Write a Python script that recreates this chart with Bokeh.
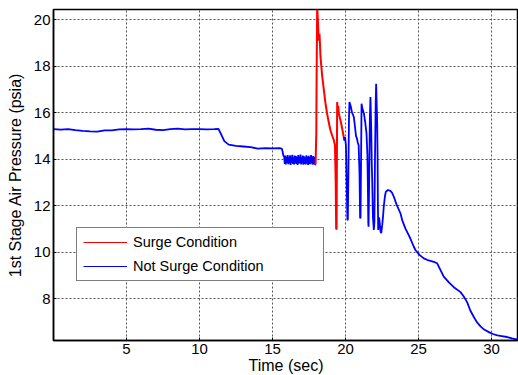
from bokeh.plotting import figure
from bokeh.models import Range1d, FixedTicker, Legend, LegendItem
from bokeh.embed import file_html
from bokeh.resources import INLINE

# ---- data ----
x_ticks = [5, 10, 15, 20, 25, 30]
y_ticks = [8, 10, 12, 14, 16, 18, 20]

# Not surge (before surge)
blue1_x = [0.0, 0.5, 1.0, 1.5, 2.0, 2.5, 3.0, 3.5, 4.0, 4.5, 5.0, 5.5, 6.0, 6.5, 7.0, 7.5,
           8.0, 8.5, 9.0, 9.5, 10.0, 10.5, 11.0, 11.3, 11.5, 11.7, 12.0, 12.5, 13.0, 13.5,
           14.0, 14.5, 15.0, 15.5, 15.65, 15.75,
           15.80, 15.84, 15.88, 15.92, 15.96, 16.00, 16.04, 16.08, 16.12, 16.16, 16.20,
           16.24, 16.28, 16.32, 16.36, 16.40, 16.44, 16.48, 16.52, 16.56, 16.60, 16.64,
           16.68, 16.72, 16.76, 16.80, 16.84, 16.88, 16.92, 16.96, 17.00, 17.04, 17.08,
           17.12, 17.16, 17.20, 17.24, 17.28, 17.32, 17.36, 17.40, 17.44, 17.48, 17.52,
           17.56, 17.60, 17.64, 17.68, 17.72, 17.76, 17.80, 17.84, 17.88, 17.92, 17.95]
blue1_y = [15.30, 15.28, 15.30, 15.25, 15.22, 15.20, 15.19, 15.24, 15.24, 15.29, 15.30, 15.29,
           15.30, 15.32, 15.27, 15.25, 15.30, 15.32, 15.29, 15.30, 15.30, 15.29, 15.30, 15.31,
           15.05, 14.78, 14.63, 14.58, 14.55, 14.52, 14.46, 14.48, 14.47, 14.48, 14.45, 14.15,
           14.12, 13.80, 14.16, 13.78, 14.10, 13.84, 14.18, 13.79, 14.08, 13.82, 14.17,
           13.76, 14.12, 13.85, 14.19, 13.80, 14.06, 13.78, 14.16, 13.83, 14.14, 13.80,
           14.10, 13.76, 14.18, 13.81, 14.12, 13.84, 14.20, 13.78, 14.09, 13.82, 14.16,
           13.77, 14.13, 13.80, 14.08, 13.78, 14.17, 13.82, 14.11, 13.76, 14.15, 13.80,
           14.10, 13.79, 14.18, 13.83, 14.12, 13.77, 14.14, 13.80, 14.10, 13.76, 13.78]

# Surge condition
red_x = [17.95, 18.00, 18.02, 18.06, 18.12, 18.17, 18.22, 18.29, 18.40, 18.52, 18.63, 18.74,
         18.85, 18.97, 19.10, 19.20, 19.28, 19.33, 19.36, 19.39, 19.41, 19.43, 19.47, 19.50,
         19.55, 19.66, 19.78, 19.88]
red_y = [13.78, 15.10, 17.40, 20.60, 19.80, 19.10, 19.40, 18.40, 17.60, 16.97, 16.40, 15.97,
         15.60, 15.25, 15.00, 14.82, 14.60, 13.00, 11.00, 11.00, 14.00, 16.46, 16.10, 16.30,
         15.95, 15.67, 15.30, 14.96]

# Not surge (after surge)
blue2_x = [19.88, 19.92, 19.97, 20.03, 20.08, 20.13, 20.16, 20.20, 20.24, 20.27, 20.35, 20.45,
           20.57, 20.65, 20.72, 20.78, 20.85, 20.90, 20.96, 21.00, 21.03, 21.06, 21.10, 21.15,
           21.26, 21.35, 21.44, 21.50, 21.53, 21.56, 21.58, 21.62, 21.67, 21.71, 21.76, 21.80,
           21.83, 21.88, 21.94, 21.98, 22.02, 22.07, 22.10, 22.14, 22.17, 22.20, 22.22, 22.24,
           22.30, 22.35, 22.40, 22.45, 22.52, 22.58, 22.62, 22.70, 22.76, 22.90, 23.08, 23.20,
           23.31, 23.50, 23.77, 23.90, 24.10, 24.40, 24.68, 24.79, 25.05, 25.36, 25.70, 26.05,
           26.28, 26.50, 26.73, 27.10, 27.42, 27.88, 28.10, 28.33, 28.55, 28.79, 29.00, 29.25,
           29.50, 29.82, 30.10, 30.40, 30.70, 31.07, 31.40, 31.85]
blue2_y = [14.96, 14.80, 14.95, 14.60, 13.00, 11.40, 11.39, 13.50, 15.80, 16.46, 16.30, 16.00,
           15.82, 15.40, 15.00, 14.90, 14.70, 14.60, 13.40, 11.50, 11.46, 13.50, 16.39, 16.20,
           15.97, 15.60, 15.10, 14.20, 12.96, 11.30, 11.10, 13.00, 15.80, 16.68, 15.40, 13.80,
           13.10, 11.50, 10.96, 11.30, 14.00, 16.50, 17.25, 16.30, 15.54, 14.00, 12.00, 10.96,
           11.50, 11.24, 10.90, 10.82, 11.20, 11.60, 11.96, 12.40, 12.60, 12.68, 12.64, 12.55,
           12.39, 12.05, 11.67, 11.35, 11.03, 10.65, 10.24, 10.10, 9.90, 9.74, 9.65, 9.59,
           9.53, 9.25, 8.96, 8.70, 8.50, 8.29, 8.10, 7.86, 7.50, 7.22, 7.00, 6.82,
           6.68, 6.57, 6.49, 6.43, 6.40, 6.36, 6.30, 6.24]

FONT = "Liberation Sans"
NAN = float("nan")

p = figure(width=518, height=375, output_backend="svg", toolbar_location=None,
           x_range=Range1d(0, 31.85), y_range=Range1d(6.21, 20.44),
           frame_width=465, frame_height=331,
           min_border_left=53, min_border_right=0, min_border_top=9, min_border_bottom=35)

p.background_fill_color = "white"
p.border_fill_color = "white"
p.outline_line_color = "black"
p.outline_line_width = 1.5

p.xaxis.ticker = FixedTicker(ticks=x_ticks)
p.yaxis.ticker = FixedTicker(ticks=y_ticks)
p.xaxis.minor_tick_line_color = None
p.yaxis.minor_tick_line_color = None
for ax in (p.xaxis, p.yaxis):
    ax.axis_line_color = "black"
    ax.axis_line_width = 1.5
    ax.major_tick_out = 0
    ax.major_tick_in = 3
    ax.major_tick_line_color = "black"
    ax.major_label_text_font = FONT
    ax.major_label_text_font_size = "15px"
    ax.major_label_text_color = "black"
    ax.major_label_standoff = 3
    ax.axis_label_text_font = FONT
    ax.axis_label_text_font_style = "normal"
    ax.axis_label_text_font_size = "16px"
    ax.axis_label_text_color = "black"

p.xaxis.axis_label = "Time (sec)"
p.yaxis.axis_label = "1st Stage Air Pressure (psia)"
p.xaxis.axis_label_standoff = 0
p.yaxis.axis_label_standoff = 7

p.grid.grid_line_color = "#555555"
p.grid.grid_line_dash = "2 2"
p.grid.grid_line_width = 1

p.line(blue1_x, blue1_y, line_color="#0000ff", line_width=1.8)
p.line(blue2_x, blue2_y, line_color="#0000ff", line_width=1.8)
p.line(red_x, red_y, line_color="#ff0000", line_width=2)

# thin legend samples (a single undefined point each, legend only)
leg_red = p.line([NAN], [NAN], line_color="#ff0000", line_width=1.2)
leg_blue = p.line([NAN], [NAN], line_color="#0000ff", line_width=1.2)

legend = Legend(items=[LegendItem(label="Surge Condition", renderers=[leg_red]),
                       LegendItem(label="Not Surge Condition", renderers=[leg_blue])],
                location=(23, 59))
legend.margin = 0
legend.padding = 6
legend.spacing = 8
legend.glyph_width = 44
legend.glyph_height = 16
legend.label_height = 16
legend.label_width = 184
legend.label_standoff = 6
legend.label_text_font = FONT
legend.label_text_font_size = "14.5px"
legend.label_text_color = "black"
legend.border_line_color = "black"
legend.border_line_width = 1.5
legend.background_fill_color = "white"
legend.background_fill_alpha = 1
p.add_layout(legend, "center")

open("out.html", "w").write(file_html(p, INLINE))
